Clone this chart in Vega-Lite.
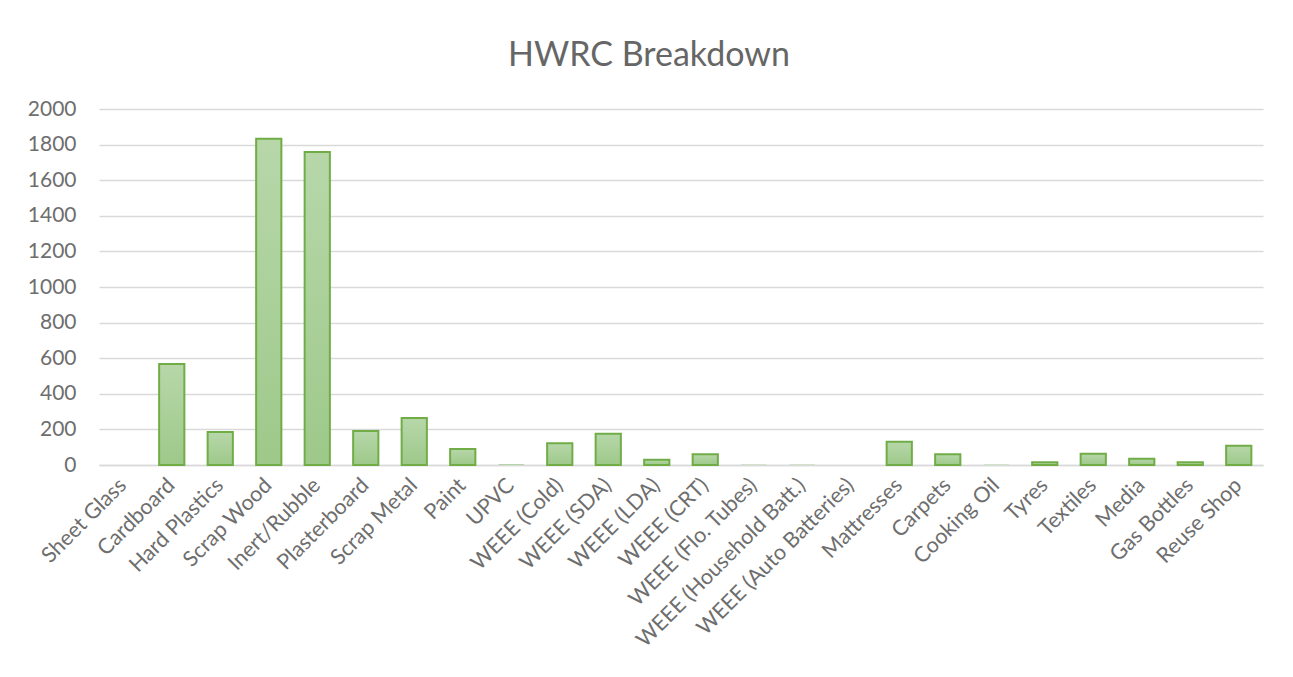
{
  "$schema": "https://vega.github.io/schema/vega-lite/v6.json",
  "autosize": "none",
  "width": 1164,
  "height": 356,
  "padding": {"left": 99, "top": 109, "right": 30, "bottom": 212},
  "background": "white",
  "title": {
    "text": "HWRC Breakdown",
    "fontSize": 34,
    "font": "Lato",
    "fontWeight": "normal",
    "color": "#666666",
    "offset": 25,
    "dx": -32,
    "anchor": "middle"
  },
  "data": {
    "values": [
      {"category": "Sheet Glass", "value": 0},
      {"category": "Cardboard", "value": 568},
      {"category": "Hard Plastics", "value": 185},
      {"category": "Scrap Wood", "value": 1833},
      {"category": "Inert/Rubble", "value": 1758},
      {"category": "Plasterboard", "value": 191},
      {"category": "Scrap Metal", "value": 264},
      {"category": "Paint", "value": 90},
      {"category": "UPVC", "value": 5},
      {"category": "WEEE (Cold)", "value": 122},
      {"category": "WEEE (SDA)", "value": 176},
      {"category": "WEEE (LDA)", "value": 30},
      {"category": "WEEE (CRT)", "value": 60},
      {"category": "WEEE (Flo. Tubes)", "value": 3},
      {"category": "WEEE (Household Batt.)", "value": 3},
      {"category": "WEEE (Auto Batteries)", "value": 0},
      {"category": "Mattresses", "value": 131},
      {"category": "Carpets", "value": 60},
      {"category": "Cooking Oil", "value": 3},
      {"category": "Tyres", "value": 15},
      {"category": "Textiles", "value": 63},
      {"category": "Media", "value": 35},
      {"category": "Gas Bottles", "value": 15},
      {"category": "Reuse Shop", "value": 108}
    ]
  },
  "mark": {
    "type": "bar",
    "stroke": "#70ad47",
    "strokeWidth": 2,
    "fill": {
      "gradient": "linear",
      "x1": 0, "y1": 0, "x2": 0, "y2": 1,
      "stops": [
        {"offset": 0, "color": "#b7d7a9"},
        {"offset": 1, "color": "#9ec98a"}
      ]
    }
  },
  "encoding": {
    "x": {
      "field": "category",
      "type": "nominal",
      "sort": null,
      "scale": {"paddingInner": 0.48, "paddingOuter": 0.24},
      "axis": {
        "title": null,
        "labelAngle": -45,
        "labelAlign": "right",
        "labelBaseline": "middle",
        "labelFont": "Lato",
        "labelFontSize": 21.5,
        "labelColor": "#6e6e6e",
        "labelPadding": 17,
        "labelLimit": 0,
        "labelOverlap": false,
        "ticks": false,
        "domainColor": "#d9d9d9",
        "domainWidth": 1.5
      }
    },
    "y": {
      "field": "value",
      "type": "quantitative",
      "scale": {"domain": [0, 2000], "nice": false},
      "axis": {
        "title": null,
        "format": "d",
        "values": [0, 200, 400, 600, 800, 1000, 1200, 1400, 1600, 1800, 2000],
        "labelFont": "Lato",
        "labelFontSize": 21,
        "labelColor": "#6e6e6e",
        "labelPadding": 23,
        "ticks": false,
        "domain": false,
        "gridColor": "#d9d9d9",
        "gridWidth": 1.5
      }
    },
    "strokeOpacity": {
      "condition": {"test": "datum.value < 10", "value": 0},
      "value": 1
    }
  },
  "config": {
    "view": {"stroke": null}
  }
}
